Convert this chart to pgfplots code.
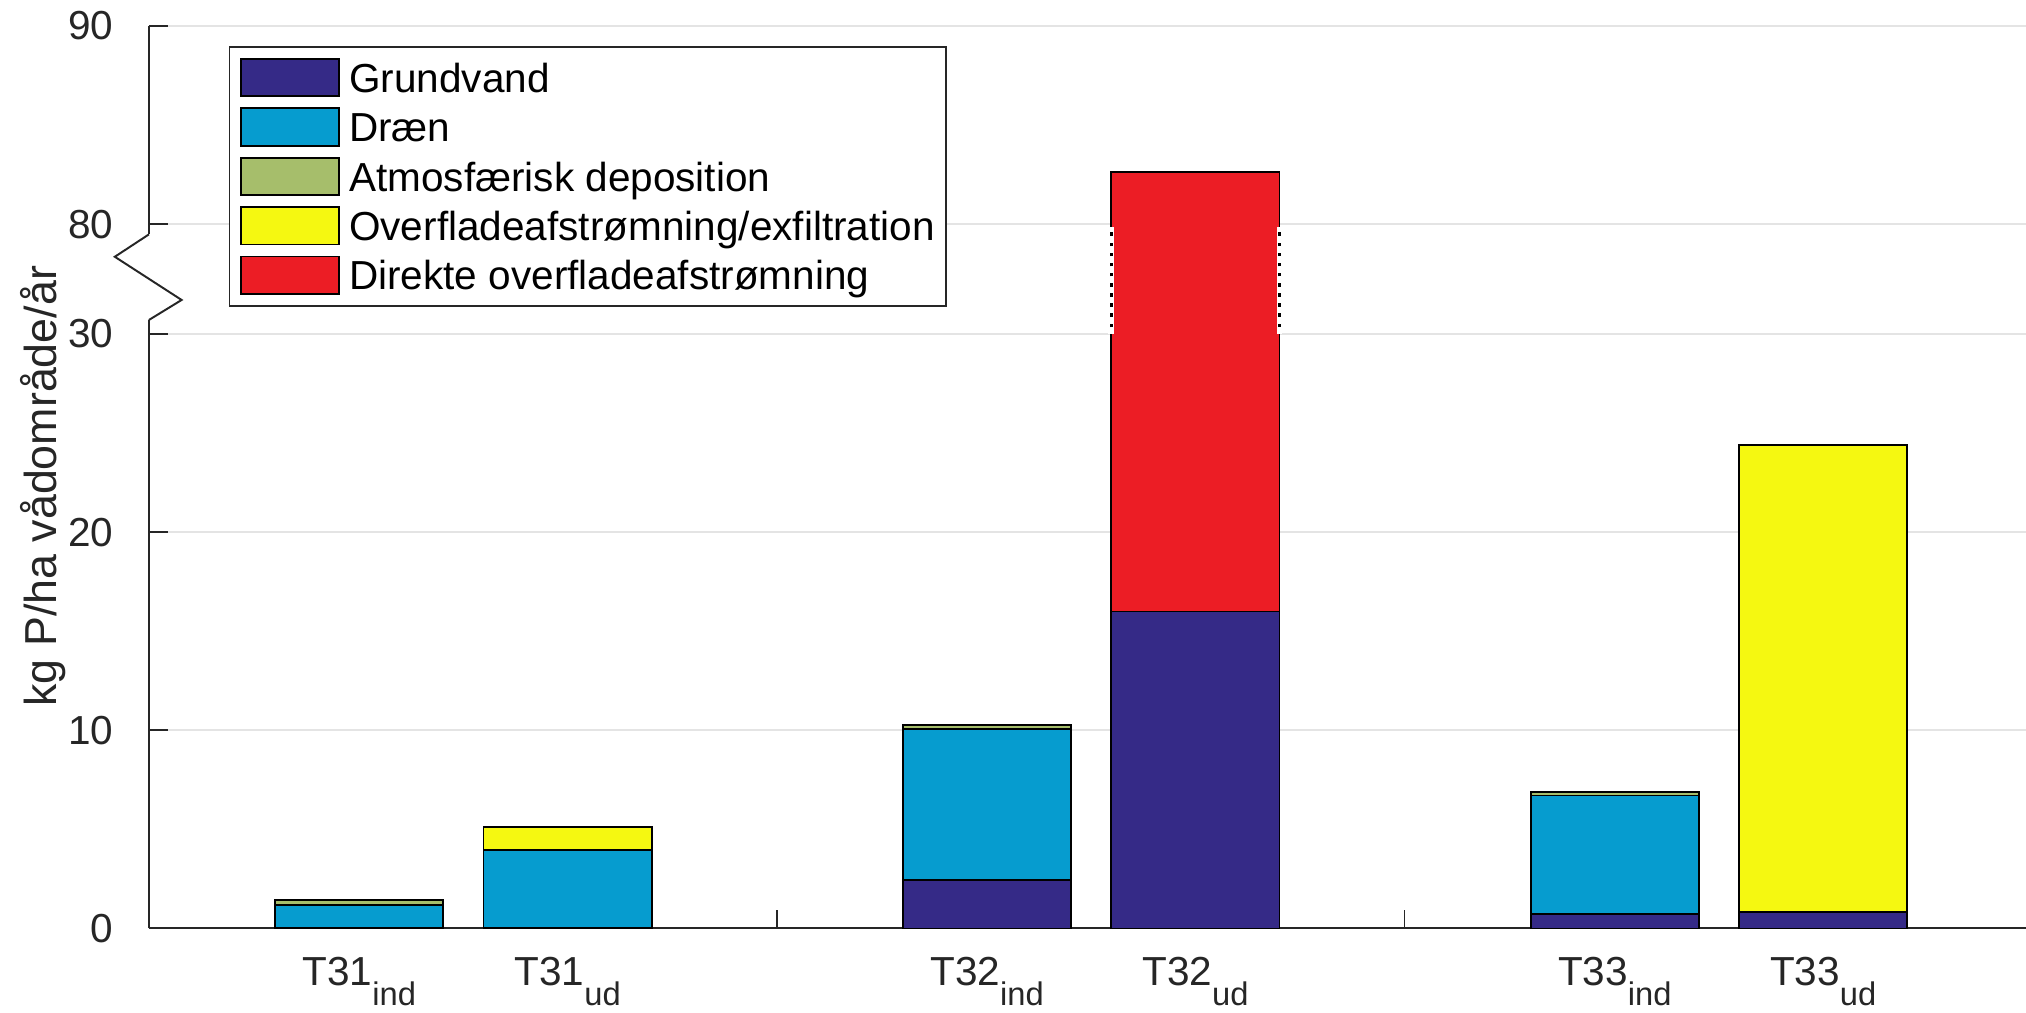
\documentclass[border=0pt]{standalone}
\usepackage{fontspec}
\setmainfont{Liberation Sans}
\usepackage{pgfplots}
\pgfplotsset{compat=1.18}

\definecolor{cG}{RGB}{53,42,135}
\definecolor{cD}{RGB}{6,156,207}
\definecolor{cA}{RGB}{166,190,107}
\definecolor{cO}{RGB}{245,248,17}
\definecolor{cR}{RGB}{236,29,37}
\definecolor{axc}{RGB}{38,38,38}
\definecolor{gridc}{RGB}{228,228,228}

\newcommand{\lbl}[2]{#1\raisebox{-5.6pt}{\fontsize{9.2}{11}\selectfont #2}}

\pgfplotsset{
  mylegend/.style={legend image code/.code={\draw[##1,draw=black,line width=0.5pt] (0pt,-5.25pt) rectangle (27.5pt,5.25pt);}},
}

% y values above the axis break (80-90) are mapped as y' = y - 80 + 35.55

\begin{document}
\begin{tikzpicture}
\path[use as bounding box] (-41.9pt,-23.6pt) rectangle (528.1pt,261.2pt);
\begin{axis}[
  at={(0,0)}, anchor=south west,
  scale only axis, width=528.1pt, height=253.9pt,
  xmin=0.5, xmax=3.49, ymin=0, ymax=45.55,
  axis x line*=bottom, axis y line*=left,
  axis line style={axc, line width=0.55pt, -},
  tick style={axc, line width=0.55pt},
  tick align=inside, major tick length=5.3pt,
  ybar stacked, bar width=0.268,
  ytick={0,10,20,30,35.55,45.55},
  yticklabels={0,10,20,30,80,90},
  ymajorgrids, grid style={gridc, line width=0.5pt},
  xtick={0.835,1.167,1.5,1.835,2.167,2.5,2.835,3.167},
  xticklabels={\lbl{T31}{ind},\lbl{T31}{ud},,\lbl{T32}{ind},\lbl{T32}{ud},,\lbl{T33}{ind},\lbl{T33}{ud}},
  ticklabel style={font=\fontsize{11.4}{13}\selectfont, text=axc, inner sep=0pt},
  yticklabel style={xshift=-9.8pt},
  xticklabel style={yshift=-7.9pt},
  ylabel={kg P/ha vådområde/år},
  ylabel style={at={(axis description cs:-0.0562,0.49)}, anchor=center, font=\fontsize{12.6}{14}\selectfont, text=axc},
  legend cell align=left,
  legend style={at={(axis description cs:0.0424,0.9776)}, anchor=north west,
    draw=axc, line width=0.5pt, fill=white,
    inner xsep=3.1pt, inner ysep=3.1pt, row sep=2.9pt, column sep=2.6pt,
    font=\fontsize{11.4}{13}\selectfont,
    nodes={inner sep=0pt, text height=9.3pt, text depth=1.1pt}},
  clip=false,
]
\addplot[fill=cG, draw=black, line width=0.5pt, mylegend] coordinates
  {(0.835,0.05) (1.167,0.05) (1.835,2.46) (2.167,16.0) (2.835,0.74) (3.167,0.83)};
\addlegendentry{Grundvand}
\addplot[fill=cD, draw=black, line width=0.5pt, mylegend] coordinates
  {(0.835,1.15) (1.167,3.92) (1.835,7.59) (2.167,0) (2.835,5.97) (3.167,0)};
\addlegendentry{Dræn}
\addplot[fill=cA, draw=black, line width=0.5pt, mylegend] coordinates
  {(0.835,0.25) (1.167,0) (1.835,0.2) (2.167,0) (2.835,0.18) (3.167,0)};
\addlegendentry{Atmosfærisk deposition}
\addplot[fill=cO, draw=black, line width=0.5pt, mylegend] coordinates
  {(0.835,0) (1.167,1.15) (1.835,0) (2.167,0) (2.835,0) (3.167,23.58)};
\addlegendentry{Overfladeafstrømning/exfiltration}
% T32ud top = 82.63 -> mapped 38.18; segment = 38.18 - 16.0
\addplot[fill=cR, draw=black, line width=0.5pt, mylegend] coordinates
  {(0.835,0) (1.167,0) (1.835,0) (2.167,22.18) (2.835,0) (3.167,0)};
\addlegendentry{Direkte overfladeafstrømning}

\coordinate (eLb) at (axis cs:2.033,30.0);
\coordinate (eLt) at (axis cs:2.033,35.4);
\coordinate (eRb) at (axis cs:2.301,30.0);
\coordinate (eRt) at (axis cs:2.301,35.4);
\coordinate (dLb) at (axis cs:2.033,30.35);
\coordinate (dLt) at (axis cs:2.033,35.3);
\coordinate (dRb) at (axis cs:2.301,30.35);
\coordinate (dRt) at (axis cs:2.301,35.3);
\coordinate (zA) at (axis cs:0.5,35.03);
\coordinate (zB) at (axis cs:0.5,33.9);
\coordinate (zC) at (axis cs:0.5,31.72);
\coordinate (zD) at (axis cs:0.5,30.71);
\end{axis}
% broken bar edges
\draw[white, line width=1.6pt] (eLb) -- (eLt);
\draw[white, line width=1.6pt] (eRb) -- (eRt);
\draw[black, line width=1.0pt, dash pattern=on 1pt off 1.85pt] (dLb) -- (dLt);
\draw[black, line width=1.0pt, dash pattern=on 1pt off 1.85pt] (dRb) -- (dRt);
% y-axis break
\draw[white, line width=2pt] (zA) -- (zD);
\draw[axc, line width=0.55pt] (zA) -- ([xshift=-9.6pt]zB) -- ([xshift=9.2pt]zC) -- (zD);
\end{tikzpicture}
\end{document}
